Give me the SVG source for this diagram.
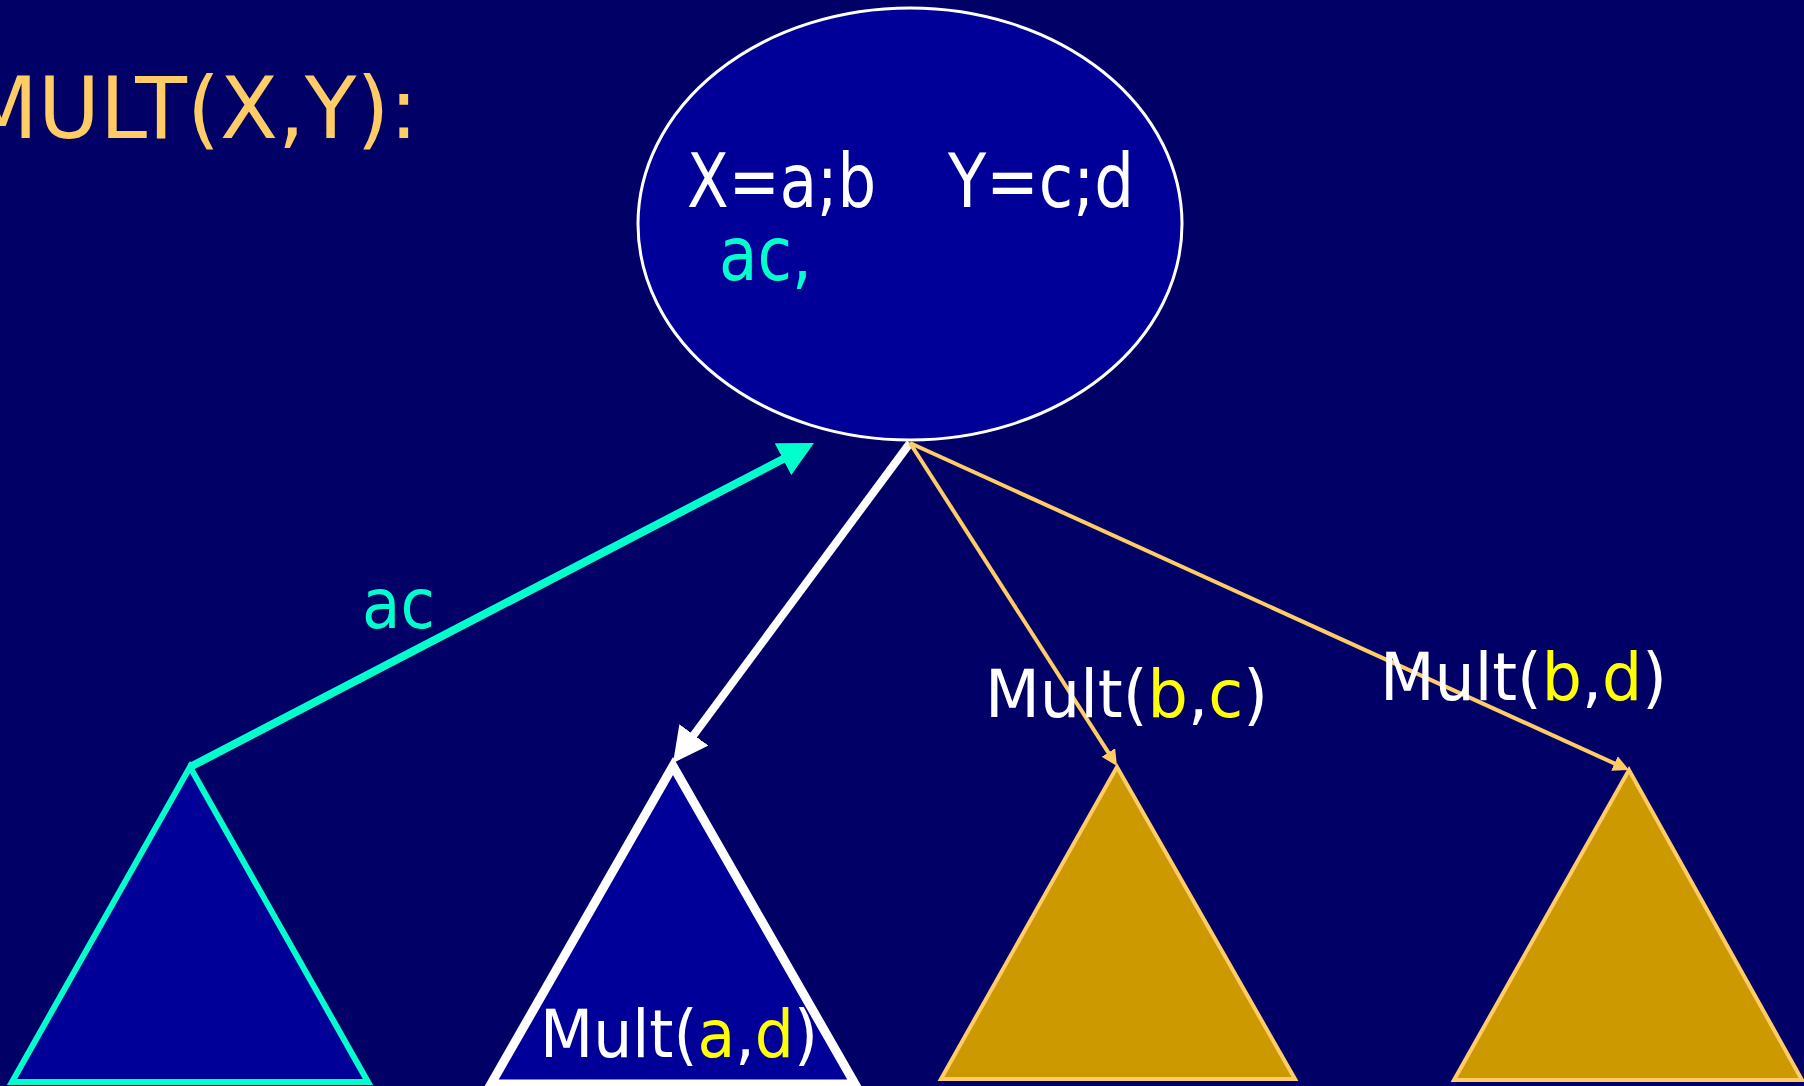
<svg xmlns="http://www.w3.org/2000/svg" width="1804" height="1086" viewBox="0 0 1804 1086">
<style>
text{font-family:"DejaVu Sans","Noto Sans",sans-serif;}
.w{fill:#FFFFFF}.y{fill:#FFFF00}.c{fill:#00FFCC}.o{fill:#FFCC66}
.blue{fill:#000099}
.gold{fill:#CC9900;stroke:#FFCC66;stroke-width:4;stroke-linejoin:miter}
.lbl{font-size:66px}
</style>
<defs>
<marker id="ahC" markerUnits="userSpaceOnUse" markerWidth="36" markerHeight="36" refX="10" refY="18" orient="auto"><path d="M0,0 L35,18 L0,36 z" fill="#00FFCC"/></marker>
<marker id="ahW" markerUnits="userSpaceOnUse" markerWidth="36" markerHeight="36" refX="10" refY="18" orient="auto"><path d="M0,0 L35,18 L0,36 z" fill="#FFFFFF"/></marker>
<marker id="ahO" markerUnits="userSpaceOnUse" markerWidth="17" markerHeight="17" refX="6" refY="8" orient="auto"><path d="M0,0 L16,8 L0,16 z" fill="#FFCC66"/></marker>
</defs>
<rect width="1804" height="1086" fill="#000066"/>
<text id="title" class="o" x="-35" y="138" font-size="86" textLength="453" lengthAdjust="spacingAndGlyphs">MULT(X,Y):</text>

<g id="root">
<ellipse cx="910" cy="224" rx="272" ry="216" class="blue" stroke="#FFFFFF" stroke-width="3"/>
<text class="w" x="687" y="207" font-size="74" textLength="189" lengthAdjust="spacingAndGlyphs">X=a;b</text>
<text class="w" x="948" y="207" font-size="74" textLength="186" lengthAdjust="spacingAndGlyphs">Y=c;d</text>
<text class="c" x="719" y="280" font-size="74" textLength="93" lengthAdjust="spacingAndGlyphs">ac,</text>
</g>

<g id="tri1"><polygon points="190,767 12,1082 368,1082" class="blue" stroke="#00FFCC" stroke-width="6"/></g>
<g id="tri2"><polygon points="673,766 491,1084 855,1084" class="blue" stroke="#FFFFFF" stroke-width="9"/></g>
<g id="tri3"><polygon points="1117,767 941,1079 1295,1079" class="gold"/></g>
<g id="tri4"><polygon points="1629,770 1454,1080 1802,1080" class="gold"/></g>

<g id="connectors" fill="none">
<line x1="190" y1="767" x2="791.8" y2="454.5" stroke="#00FFCC" stroke-width="8" marker-end="url(#ahC)"/>
<line x1="910" y1="443" x2="687.9" y2="742.9" stroke="#FFFFFF" stroke-width="8" marker-end="url(#ahW)"/>
<line x1="910" y1="443" x2="1111.6" y2="757.6" stroke="#FFCC66" stroke-width="4" marker-end="url(#ahO)"/>
<line x1="910" y1="443" x2="1619.9" y2="765.9" stroke="#FFCC66" stroke-width="4" marker-end="url(#ahO)"/>
</g>

<g id="labels">
<text class="c" x="362" y="628" font-size="70" textLength="73" lengthAdjust="spacingAndGlyphs">ac</text>
<text class="w lbl" x="540" y="1057" textLength="278" lengthAdjust="spacingAndGlyphs">Mult(<tspan class="y">a</tspan>,<tspan class="y">d</tspan>)</text>
<text class="w lbl" x="985" y="717" textLength="283" lengthAdjust="spacingAndGlyphs">Mult(<tspan class="y">b</tspan>,<tspan class="y">c</tspan>)</text>
<text class="w lbl" x="1380" y="700" textLength="287" lengthAdjust="spacingAndGlyphs">Mult(<tspan class="y">b</tspan>,<tspan class="y">d</tspan>)</text>
</g>
</svg>
